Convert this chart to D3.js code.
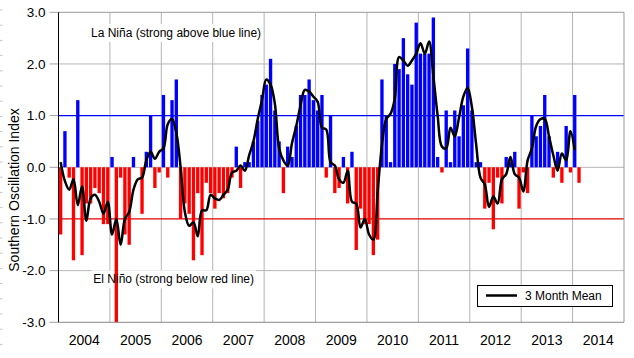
<!DOCTYPE html>
<html>
<head>
<meta charset="utf-8">
<script src="https://cdn.jsdelivr.net/npm/d3@7"></script>
<style>
  body { margin: 0; background: #fff; }
  svg { display: block; font-family: "Liberation Sans", Arial, sans-serif; }
</style>
</head>
<body>
<div id="chart"></div>
<script>
// monthly SOI values
const years = ["2004", "2005", "2006", "2007", "2008", "2009", "2010", "2011", "2012", "2013", "2014"];
const monthNames = ["Jan", "Feb", "Mar", "Apr", "May", "Jun", "Jul", "Aug", "Sep", "Oct", "Nov", "Dec"];
const soiDec2003 = 0.9; // only used by the 3 month mean at Jan 2004
const soi2004 = [-1.3, 0.7, -0.2, -1.8, 1.3, -1.7, -0.7, -0.7, -0.4, -0.5, -1.1, -1.1];
const soi2005 = [0.2, -3.0, -0.2, -1.3, -1.5, 0.2, 0.0, -0.9, 0.3, 1.0, -0.4, -0.1];
const soi2006 = [1.4, -0.2, 1.3, 1.7, -1.0, -0.7, -0.9, -1.8, -0.5, -1.7, -0.3, -0.5];
const soi2007 = [-0.8, -0.5, -0.6, -0.5, -0.2, 0.4, -0.4, 0.1, 0.1, 0.5, 0.9, 1.4];
const soi2008 = [1.6, 2.1, 1.1, 0.5, -0.5, 0.4, 0.2, 0.8, 1.4, 1.4, 1.7, 1.3];
const soi2009 = [1.1, 1.4, -0.2, 1.0, -0.5, -0.4, 0.2, -0.7, 0.3, -1.6, -0.8, -1.1];
const soi2010 = [-1.1, -1.7, -1.4, 1.7, 1.0, 0.1, 2.0, 1.9, 2.5, 1.8, 1.6, 2.8];
const soi2011 = [2.2, 2.2, 2.2, 2.9, 0.2, -0.1, 1.1, 0.1, 1.1, 0.6, 1.2, 2.3];
const soi2012 = [1.1, 0.1, 0.1, -0.8, -0.3, -1.2, -0.2, -0.7, 0.2, 0.1, 0.3, -0.8];
const soi2013 = [-0.1, -0.5, 1.0, 0.6, 0.8, 1.4, 0.6, -0.2, 0.3, -0.3, 0.8, -0.1];
const soi2014 = [1.4, -0.3];
const yTicks = [-3, -2, -1, 0, 1, 2, 3];

const months = years.flatMap(yr => monthNames.map(m => `${yr}-${m}`));
const soi = [].concat(soi2004, soi2005, soi2006, soi2007, soi2008, soi2009,
  soi2010, soi2011, soi2012, soi2013, soi2014);
const data = soi.map((v, i) => ({ month: months[i], value: v }));

// centred 3 month running mean
const withPrev = [soiDec2003].concat(soi);
const meanData = d3.range(0, soi.length - 1).map(i => ({
  month: months[i],
  value: d3.mean(withPrev.slice(i, i + 3))
}));

const svgWidth = 634, svgHeight = 358;
const margin = { left: 58.5, right: 10, top: 12.3, bottom: 35.7 };
const graphWidth = svgWidth - margin.left - margin.right;
const graphHeight = svgHeight - margin.top - margin.bottom;
const plotLeft = margin.left, plotRight = margin.left + graphWidth;
const plotTop = margin.top, plotBottom = margin.top + graphHeight;

const svg = d3.select("#chart").append("svg")
  .attr("width", svgWidth)
  .attr("height", svgHeight);

const x = d3.scaleBand()
  .domain(months)
  .range([plotLeft, plotRight])
  .paddingInner(0.22)
  .paddingOuter(0.11);

const xYear = d3.scaleLinear()
  .domain([2004, 2015])
  .range([plotLeft, plotRight]);

const y = d3.scaleLinear()
  .domain([-3, 3])
  .range([plotBottom, plotTop]);

// faint ruler dashes at the left edge
svg.append("g").selectAll("line")
  .data(d3.range(10, svgHeight, 15.2))
  .enter().append("line")
  .attr("x1", 0).attr("x2", 2.5)
  .attr("y1", d => d).attr("y2", d => d)
  .attr("stroke", "#c4c4c4");

// gridlines
const grid = svg.append("g").attr("stroke", "#b4b4b4").attr("stroke-width", 1);
grid.selectAll(".hg")
  .data(yTicks.filter(d => d !== 1 && d !== -1 && d !== -3 && d !== 3))
  .enter().append("line")
  .attr("x1", plotLeft).attr("x2", plotRight)
  .attr("y1", d => y(d)).attr("y2", d => y(d));
grid.selectAll(".vg")
  .data(d3.range(2005, 2015))
  .enter().append("line")
  .attr("x1", d => xYear(d)).attr("x2", d => xYear(d))
  .attr("y1", plotTop).attr("y2", plotBottom);

// tick marks on the y axis
svg.append("g").selectAll("line")
  .data(yTicks)
  .enter().append("line")
  .attr("x1", plotLeft - 9).attr("x2", plotLeft)
  .attr("y1", d => y(d)).attr("y2", d => y(d))
  .attr("stroke", "#a0a0a0");

// annotation labels with white boxes over the grid
const notes = [
  { text: "La Niña (strong above blue line)", x: 91, y: 37 },
  { text: "El Niño (strong below red line)", x: 93.3, y: 283.3 }
];
const noteBoxes = svg.append("g");

// strong thresholds
svg.append("line")
  .attr("x1", plotLeft).attr("x2", plotRight)
  .attr("y1", y(1)).attr("y2", y(1))
  .attr("stroke", "#0000ff").attr("stroke-width", 1.2);
svg.append("line")
  .attr("x1", plotLeft).attr("x2", plotRight)
  .attr("y1", y(-1)).attr("y2", y(-1))
  .attr("stroke", "#e00000").attr("stroke-width", 1.2);

// bars
svg.append("g").selectAll("rect")
  .data(data)
  .enter().append("rect")
  .attr("x", d => x(d.month))
  .attr("width", x.bandwidth())
  .attr("y", d => y(Math.max(0, d.value)))
  .attr("height", d => Math.abs(y(d.value) - y(0)))
  .attr("fill", d => d.value >= 0 ? "#0000ff" : "#ff0000");

notes.forEach(n => {
  const t = svg.append("text")
    .attr("x", n.x).attr("y", n.y)
    .attr("font-size", 12)
    .attr("fill", "#000")
    .text(n.text);
  const bb = t.node().getBBox();
  noteBoxes.append("rect")
    .attr("x", bb.x - 2).attr("y", bb.y - 2)
    .attr("width", bb.width + 4).attr("height", bb.height + 4)
    .attr("fill", "#fff");
});

// 3 month mean
const line = d3.line()
  .x(d => x(d.month) + x.bandwidth() / 2)
  .y(d => y(d.value))
  .curve(d3.curveCatmullRom);
svg.append("path")
  .datum(meanData)
  .attr("d", line)
  .attr("fill", "none")
  .attr("stroke", "#000")
  .attr("stroke-width", 2.5)
  .attr("stroke-linejoin", "round");

// frame
svg.append("line").attr("x1", plotLeft).attr("x2", plotRight).attr("y1", plotTop).attr("y2", plotTop)
  .attr("stroke", "#999");
svg.append("line").attr("x1", plotRight).attr("x2", plotRight).attr("y1", plotTop).attr("y2", plotBottom)
  .attr("stroke", "#999");
svg.append("line").attr("x1", plotLeft).attr("x2", plotRight).attr("y1", plotBottom).attr("y2", plotBottom)
  .attr("stroke", "#888");
svg.append("line").attr("x1", plotLeft).attr("x2", plotLeft).attr("y1", plotTop).attr("y2", plotBottom)
  .attr("stroke", "#000");

// y tick labels (plain hyphen minus, like the original)
svg.append("g").selectAll("text")
  .data(yTicks)
  .enter().append("text")
  .attr("x", 45.5)
  .attr("y", d => y(d))
  .attr("dy", "0.36em")
  .attr("text-anchor", "end")
  .attr("font-size", 13.5)
  .attr("fill", "#000")
  .text(d => d3.format(".1f")(d).replace("\u2212", "-"));

// year labels
svg.append("g").selectAll("text")
  .data(years)
  .enter().append("text")
  .attr("x", d => xYear(+d + 0.5))
  .attr("y", 344.5)
  .attr("text-anchor", "middle")
  .attr("font-size", 14)
  .attr("fill", "#000")
  .text(d => d);

// y axis title
svg.append("text")
  .attr("transform", "translate(19, 190) rotate(-90)")
  .attr("text-anchor", "middle")
  .attr("font-size", 14)
  .attr("fill", "#000")
  .text("Southern Oscillation Index");

// legend
const legend = svg.append("g");
legend.append("rect")
  .attr("x", 477.5).attr("y", 285.5)
  .attr("width", 135).attr("height", 21)
  .attr("fill", "#fff").attr("stroke", "#000");
legend.append("line")
  .attr("x1", 486).attr("x2", 517)
  .attr("y1", 295.5).attr("y2", 295.5)
  .attr("stroke", "#000").attr("stroke-width", 2.5);
legend.append("text")
  .attr("x", 525).attr("y", 300.3)
  .attr("font-size", 12)
  .attr("fill", "#000")
  .text("3 Month Mean");
</script>
</body>
</html>
